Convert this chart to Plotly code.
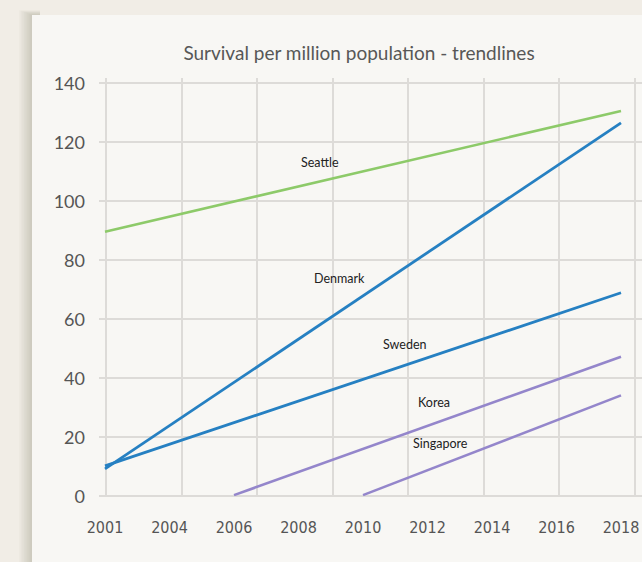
import plotly.graph_objects as go

W, H = 642, 562

# ---- data ----
tick_years = ["2001", "2004", "2006", "2008", "2010", "2012", "2014", "2016", "2018"]
series = ["Seattle", "Denmark", "Sweden", "Korea", "Singapore"]
start_year = ["2001", "2001", "2001", "2006", "2010"]
end_year = ["2018", "2018", "2018", "2018", "2018"]
start_value = [89.7, 9.3, 10.3, 0.4, 0.4]
end_value = [130.6, 126.6, 69.0, 47.3, 34.2]
line_colors = ["#8dca69", "#2680c2", "#2680c2", "#9486cb", "#9486cb"]
line_widths = [2.6, 2.8, 2.8, 2.6, 2.6]
y_ticks = [0, 20, 40, 60, 80, 100, 120, 140]

# label positions (in axis units)
label_x = [3.33, 3.63, 4.64, 5.10, 5.20]
label_y = [113.3, 74.0, 51.5, 31.9, 18.0]

# ---- layout helpers (pixel -> paper) ----
def px(x):
    return x / W

def py(y):
    return 1 - y / H

plot_left, plot_right = 99, 642
plot_top, plot_bottom = 78, 496.3
idx0_px, idx_step = 105, 64.5          # label axis: index 0 position & spacing
grid0_px, grid_step = 106, 75.57       # vertical grid lines

fig = go.Figure()
for i, name in enumerate(series):
    xs = [tick_years.index(start_year[i]), tick_years.index(end_year[i])]
    ys = [start_value[i], end_value[i]]
    fig.add_trace(go.Scatter(
        x=xs, y=ys, mode="lines", name=name,
        line=dict(color=line_colors[i], width=line_widths[i]),
        showlegend=False, hoverinfo="skip",
    ))

for i, name in enumerate(series):
    fig.add_annotation(x=label_x[i], y=label_y[i], xref="x", yref="y",
                       text=name, showarrow=False,
                       font=dict(family="Lato, Noto Sans, sans-serif", size=12.5, color="#222222"))

# invisible trace on grid axis so it renders
fig.add_trace(go.Scatter(x=[0], y=[0], xaxis="x2", yaxis="y", mode="markers",
                         marker=dict(opacity=0), showlegend=False, hoverinfo="skip"))

xr0 = (plot_left - idx0_px) / idx_step
xr1 = (plot_right - idx0_px) / idx_step
gr0 = (plot_left - grid0_px) / grid_step
gr1 = (plot_right - grid0_px) / grid_step
y_top_val = 140 + (83.3 - plot_top) / 2.95

shapes = []
# card shadow
for k in range(8):
    shapes.append(dict(type="rect", xref="paper", yref="paper",
                       x0=px(32 - 1.6 * (8 - k)), x1=px(40), y0=-0.1, y1=py(15 - 0.6 * (8 - k)),
                       fillcolor="rgba(120,110,95,0.035)", line=dict(width=0), layer="below"))
shapes.append(dict(type="rect", xref="paper", yref="paper",
                   x0=px(32), x1=1.1, y0=-0.1, y1=py(15),
                   fillcolor="#f8f7f4", line=dict(width=0), layer="below"))

fig.update_layout(
    width=W, height=H,
    margin=dict(l=0, r=0, t=0, b=0, pad=0),
    paper_bgcolor="#f1ede6",
    plot_bgcolor="rgba(0,0,0,0)",
    shapes=shapes,
    title=dict(text="Survival per million population - trendlines",
               x=px(359), xanchor="center", y=py(53), yanchor="middle",
               font=dict(family="Lato, Noto Sans, sans-serif", size=19, color="#575757")),
    xaxis=dict(domain=[px(plot_left), 1.0], range=[xr0, xr1], automargin=False,
               tickmode="array", tickvals=list(range(len(tick_years))), ticktext=tick_years,
               showgrid=False, zeroline=False, showline=False, ticks="",
               ticklabelstandoff=20,
               tickfont=dict(family="Liberation Sans Narrow, DejaVu Sans Condensed, Roboto Condensed, sans-serif",
                             size=16, color="#555555")),
    xaxis2=dict(overlaying="x", range=[gr0, gr1], tickmode="linear", tick0=0, dtick=1,
                automargin=False,
                showgrid=True, gridcolor="#dddbd8", gridwidth=1.5,
                showticklabels=False, zeroline=False, ticks=""),
    yaxis=dict(domain=[py(plot_bottom), py(plot_top)], range=[0, y_top_val], automargin=False,
               tickmode="array", tickvals=y_ticks,
               showgrid=True, gridcolor="#dddbd8", gridwidth=1.5,
               zeroline=True, zerolinecolor="#dddbd8", zerolinewidth=1.5,
               ticks="", ticklabelstandoff=13,
               tickfont=dict(family="Lato, Noto Sans, sans-serif", size=18, color="#555555")),
)

fig.write_html("out.html")
